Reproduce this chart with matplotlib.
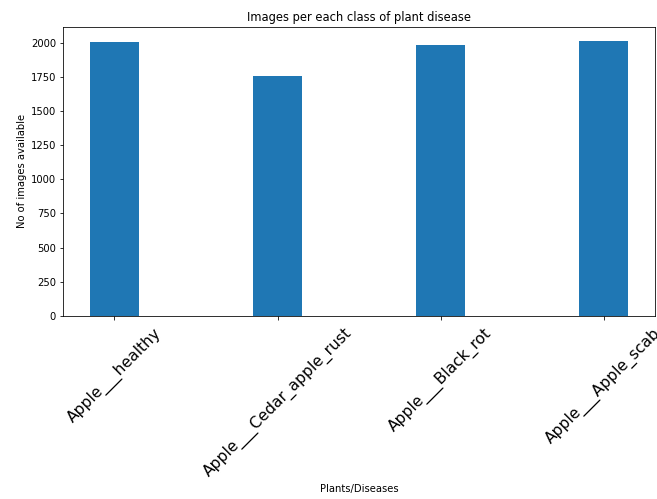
import matplotlib
matplotlib.use("Agg")
import matplotlib.pyplot as plt

classes = ["Apple___healthy", "Apple___Cedar_apple_rust",
           "Apple___Black_rot", "Apple___Apple_scab"]
counts = [2008, 1760, 1987, 2016]

fig = plt.figure(figsize=(657 / 72, 499 / 72), dpi=72)
ax = fig.add_axes([0.096, 0.367, 0.901, 0.579])

ax.bar(classes, counts, width=0.3, color="#1f77b4")
ax.set_title("Images per each class of plant disease", fontsize=11.5)
ax.set_ylabel("No of images available", fontsize=10)
ax.set_xlabel("Plants/Diseases", fontsize=10)
ax.tick_params(axis="y", labelsize=10)
ax.tick_params(axis="x", pad=6)
plt.xticks(rotation=45, fontsize=15.5)

fig.savefig("out.png", dpi=72)
